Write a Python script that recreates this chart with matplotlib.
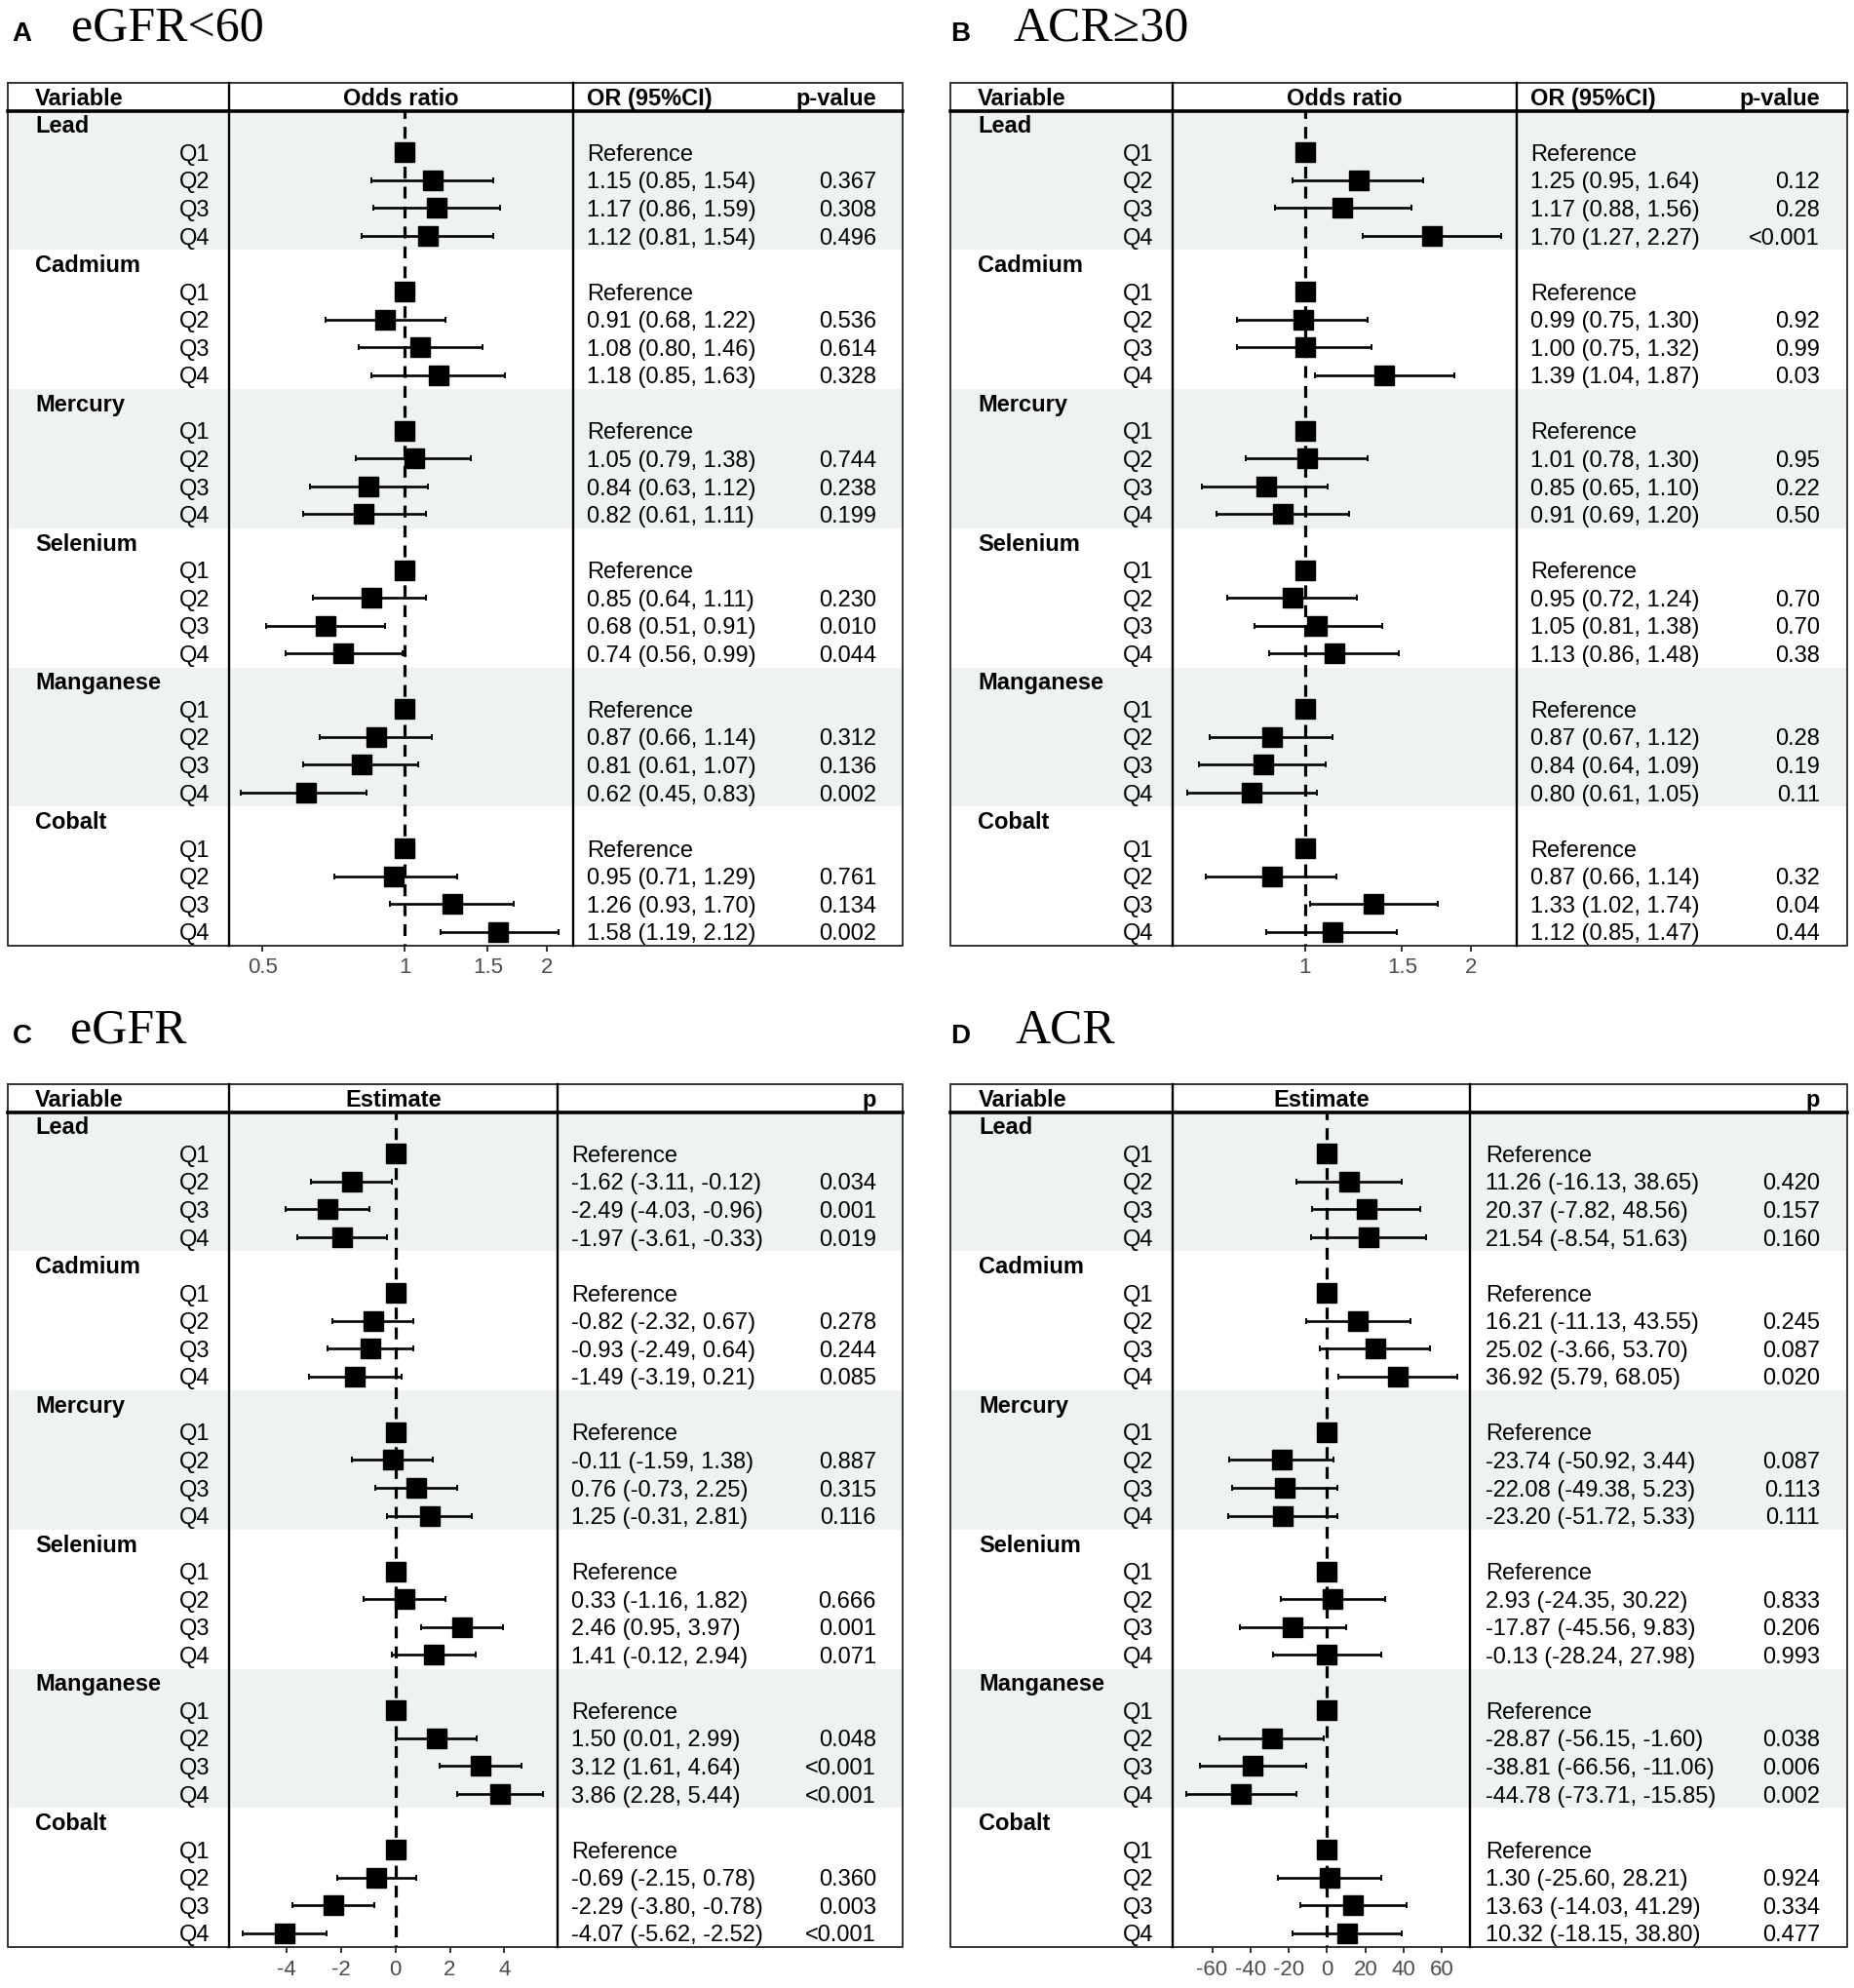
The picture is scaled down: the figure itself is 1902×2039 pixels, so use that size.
import numpy as np
import matplotlib
matplotlib.use("Agg")
import matplotlib.pyplot as plt
from matplotlib.ticker import NullLocator

# ---- data (Q2..Q4 per metal, Q1 is the reference) ----
metals = ["Lead", "Cadmium", "Mercury", "Selenium", "Manganese", "Cobalt"]
quartiles = ["Q1", "Q2", "Q3", "Q4"]

a_est = [[1.15, 1.17, 1.12], [0.91, 1.08, 1.18], [1.05, 0.84, 0.82],
         [0.85, 0.68, 0.74], [0.87, 0.81, 0.62], [0.95, 1.26, 1.58]]
a_lo = [[0.85, 0.86, 0.81], [0.68, 0.80, 0.85], [0.79, 0.63, 0.61],
        [0.64, 0.51, 0.56], [0.66, 0.61, 0.45], [0.71, 0.93, 1.19]]
a_hi = [[1.54, 1.59, 1.54], [1.22, 1.46, 1.63], [1.38, 1.12, 1.11],
        [1.11, 0.91, 0.99], [1.14, 1.07, 0.83], [1.29, 1.70, 2.12]]
a_p = [["0.367", "0.308", "0.496"], ["0.536", "0.614", "0.328"], ["0.744", "0.238", "0.199"],
       ["0.230", "0.010", "0.044"], ["0.312", "0.136", "0.002"], ["0.761", "0.134", "0.002"]]

b_est = [[1.25, 1.17, 1.70], [0.99, 1.00, 1.39], [1.01, 0.85, 0.91],
         [0.95, 1.05, 1.13], [0.87, 0.84, 0.80], [0.87, 1.33, 1.12]]
b_lo = [[0.95, 0.88, 1.27], [0.75, 0.75, 1.04], [0.78, 0.65, 0.69],
        [0.72, 0.81, 0.86], [0.67, 0.64, 0.61], [0.66, 1.02, 0.85]]
b_hi = [[1.64, 1.56, 2.27], [1.30, 1.32, 1.87], [1.30, 1.10, 1.20],
        [1.24, 1.38, 1.48], [1.12, 1.09, 1.05], [1.14, 1.74, 1.47]]
b_p = [["0.12", "0.28", "<0.001"], ["0.92", "0.99", "0.03"], ["0.95", "0.22", "0.50"],
       ["0.70", "0.70", "0.38"], ["0.28", "0.19", "0.11"], ["0.32", "0.04", "0.44"]]

c_est = [[-1.62, -2.49, -1.97], [-0.82, -0.93, -1.49], [-0.11, 0.76, 1.25],
         [0.33, 2.46, 1.41], [1.50, 3.12, 3.86], [-0.69, -2.29, -4.07]]
c_lo = [[-3.11, -4.03, -3.61], [-2.32, -2.49, -3.19], [-1.59, -0.73, -0.31],
        [-1.16, 0.95, -0.12], [0.01, 1.61, 2.28], [-2.15, -3.80, -5.62]]
c_hi = [[-0.12, -0.96, -0.33], [0.67, 0.64, 0.21], [1.38, 2.25, 2.81],
        [1.82, 3.97, 2.94], [2.99, 4.64, 5.44], [0.78, -0.78, -2.52]]
c_p = [["0.034", "0.001", "0.019"], ["0.278", "0.244", "0.085"], ["0.887", "0.315", "0.116"],
       ["0.666", "0.001", "0.071"], ["0.048", "<0.001", "<0.001"], ["0.360", "0.003", "<0.001"]]

d_est = [[11.26, 20.37, 21.54], [16.21, 25.02, 36.92], [-23.74, -22.08, -23.20],
         [2.93, -17.87, -0.13], [-28.87, -38.81, -44.78], [1.30, 13.63, 10.32]]
d_lo = [[-16.13, -7.82, -8.54], [-11.13, -3.66, 5.79], [-50.92, -49.38, -51.72],
        [-24.35, -45.56, -28.24], [-56.15, -66.56, -73.71], [-25.60, -14.03, -18.15]]
d_hi = [[38.65, 48.56, 51.63], [43.55, 53.70, 68.05], [3.44, 5.23, 5.33],
        [30.22, 9.83, 27.98], [-1.60, -11.06, -15.85], [28.21, 41.29, 38.80]]
d_p = [["0.420", "0.157", "0.160"], ["0.245", "0.087", "0.020"], ["0.087", "0.113", "0.111"],
       ["0.833", "0.206", "0.993"], ["0.038", "0.006", "0.002"], ["0.924", "0.334", "0.477"]]

# ---- layout (pixels of the 1902 x 2039 figure) ----
W, H = 1902, 2039
SHADE = "#eef2f1"
SANS = ["Liberation Sans", "DejaVu Sans"]
SERIF = ["Liberation Serif", "DejaVu Serif"]

panels = [
    dict(letter="A", title="eGFR<60", est=a_est, lo=a_lo, hi=a_hi, p=a_p, ref=1.0, log=True,
         box=(8, 235, 588, 926, 85, 970), tx=(36, 215, 602, 899), xlim=(0.425, 2.275),
         ticks=[0.5, 1, 1.5, 2], labels=["0.5", "1", "1.5", "2"],
         head=("Odds ratio", "OR (95%CI)", "p-value"), ttl=(12, 73, 42)),
    dict(letter="B", title="ACR\u226530", est=b_est, lo=b_lo, hi=b_hi, p=b_p, ref=1.0, log=True,
         box=(975, 1203, 1556, 1895, 85, 970), tx=(1003, 1183, 1570, 1867), xlim=(0.574, 2.425),
         ticks=[1, 1.5, 2], labels=["1", "1.5", "2"],
         head=("Odds ratio", "OR (95%CI)", "p-value"), ttl=(975, 1039, 42)),
    dict(letter="C", title="eGFR", est=c_est, lo=c_lo, hi=c_hi, p=c_p, ref=0.0, log=False,
         box=(8, 235, 572, 926, 1112, 1997), tx=(36, 215, 586, 899), xlim=(-6.12, 5.96),
         ticks=[-4, -2, 0, 2, 4], labels=["-4", "-2", "0", "2", "4"],
         head=("Estimate", "", "p"), ttl=(13, 72, 1070)),
    dict(letter="D", title="ACR", est=d_est, lo=d_lo, hi=d_hi, p=d_p, ref=0.0, log=False,
         box=(975, 1203, 1508, 1895, 1112, 1997), tx=(1004, 1183, 1524, 1867), xlim=(-80.6, 74.5),
         ticks=[-60, -40, -20, 0, 20, 40, 60], labels=["-60", "-40", "-20", "0", "20", "40", "60"],
         head=("Estimate", "", "p"), ttl=(975, 1041, 1070)),
]

NROW = 1 + len(metals) * 5
BASE = 0.80  # baseline position inside a row (row units), puts caps centred


def add_px_axes(fig, x0, x1, y0, y1):
    return fig.add_axes([x0 / W, 1 - y1 / H, (x1 - x0) / W, (y1 - y0) / H])


def cell(ax, x, row, s, ha="left", bold=False):
    ax.text(x, row + BASE, s, fontsize=17, fontweight="bold" if bold else "normal",
            family=SANS, va="baseline", ha=ha)


def draw_panel(fig, cfg):
    left, d1, d2, right, top, bottom = cfg["box"]
    vx, qx, ex, pxr = cfg["tx"]

    # table axes: x in pixels, y in rows
    ax = add_px_axes(fig, left, right, top, bottom)
    ax.set_xlim(left, right)
    ax.set_ylim(NROW, 0)
    ax.axis("off")

    for g in range(len(metals)):
        if g % 2 == 0:
            ax.axhspan(1 + 5 * g, 6 + 5 * g, color=SHADE, lw=0, zorder=0)

    # borders
    ax.plot([left, right, right, left, left], [0, 0, NROW, NROW, 0], color="#333333", lw=1.4,
            clip_on=False, zorder=3)
    for xd in (d1, d2):
        ax.plot([xd, xd], [0, NROW], color="black", lw=1.7, clip_on=False, zorder=3)
    ax.plot([left, right], [1, 1], color="black", lw=2.6, clip_on=False, zorder=3)

    head_plot, head_est, head_p = cfg["head"]
    cell(ax, vx, 0, "Variable", bold=True)
    cell(ax, (d1 + d2) / 2, 0, head_plot, ha="center", bold=True)
    if head_est:
        cell(ax, ex, 0, head_est, bold=True)
    cell(ax, pxr, 0, head_p, ha="right", bold=True)

    for g, metal in enumerate(metals):
        r0 = 1 + 5 * g
        cell(ax, vx, r0, metal, bold=True)
        for k, q in enumerate(quartiles):
            r = r0 + 1 + k
            cell(ax, qx, r, q, ha="right")
            if k == 0:
                cell(ax, ex, r, "Reference")
            else:
                e = cfg["est"][g][k - 1]
                lo = cfg["lo"][g][k - 1]
                hi = cfg["hi"][g][k - 1]
                cell(ax, ex, r, f"{e:.2f} ({lo:.2f}, {hi:.2f})")
                cell(ax, pxr, r, cfg["p"][g][k - 1], ha="right")

    # forest column
    fx = add_px_axes(fig, d1, d2, top, bottom)
    fx.set_facecolor("none")
    if cfg["log"]:
        fx.set_xscale("log")
    fx.set_xlim(*cfg["xlim"])
    fx.set_ylim(NROW, 0)
    for s in fx.spines.values():
        s.set_visible(False)

    ref = cfg["ref"]
    fx.plot([ref, ref], [1.0, NROW], color="black", lw=2.3, linestyle=(1.5, (3.8, 2.6)), zorder=2)

    ys, es, los, his, ref_y = [], [], [], [], []
    for g in range(len(metals)):
        r0 = 1 + 5 * g
        ref_y.append(r0 + 1.5)
        for k in range(3):
            ys.append(r0 + 2 + k + 0.5)
            es.append(cfg["est"][g][k])
            los.append(cfg["lo"][g][k])
            his.append(cfg["hi"][g][k])
    es = np.array(es)
    xerr = np.vstack([es - np.array(los), np.array(his) - es])
    fx.errorbar(es, ys, xerr=xerr, fmt="s", color="black", ms=13.9, lw=1.9, capsize=2.2,
                capthick=1.4, zorder=4)
    fx.plot([ref] * len(ref_y), ref_y, "s", color="black", ms=13.9, zorder=4)

    fx.set_xticks(cfg["ticks"])
    fx.set_xticklabels(cfg["labels"])
    fx.xaxis.set_minor_locator(NullLocator())
    fx.set_yticks([])
    fx.tick_params(axis="x", direction="out", length=4.0, width=1.4, color="#333333",
                   labelcolor="#4d4d4d", labelsize=16, pad=5)
    for lab in fx.get_xticklabels():
        lab.set_family(SANS)

    # panel title
    lx, tx, ty = cfg["ttl"]
    fig.text(lx / W, 1 - ty / H, cfg["letter"], fontsize=20, fontweight="bold", family=SANS,
             va="baseline", ha="left")
    fig.text(tx / W, 1 - ty / H, cfg["title"], fontsize=36, family=SERIF, va="baseline", ha="left")


def main():
    fig = plt.figure(figsize=(W / 100, H / 100), dpi=100, facecolor="white")
    for cfg in panels:
        draw_panel(fig, cfg)
    fig.savefig("out.png", dpi=100, facecolor="white")


if __name__ == "__main__":
    main()
